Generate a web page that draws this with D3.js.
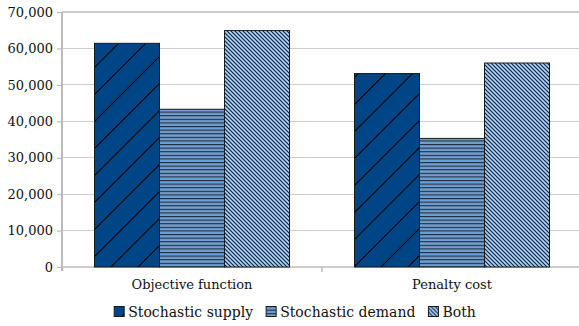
<!DOCTYPE html>
<html>
<head>
<meta charset="utf-8">
<script src="https://cdn.jsdelivr.net/npm/d3@7"></script>
<style>
  html, body { margin: 0; padding: 0; background: #fff; }
  svg { display: block; }
</style>
</head>
<body>
<svg id="chart" width="579" height="326"></svg>
<script>
// Cost components under each uncertainty setting
const categories = ["Objective function", "Penalty cost"];
const seriesNames = ["Stochastic supply", "Stochastic demand", "Both"];
const stochasticSupply = [61400, 53100];
const stochasticDemand = [43300, 35300];
const both = [64900, 56000];
const yTicks = [0, 10000, 20000, 30000, 40000, 50000, 60000, 70000];

const seriesValues = [stochasticSupply, stochasticDemand, both];
const FONT = "'DejaVu Serif', 'Liberation Serif', 'Times New Roman', serif";
const FS = "13px";
const LEGEND_FS = "14px";

const svg = d3.select("#chart");
const margin = { left: 62, right: -3, top: 12, bottom: 59 };
const W = 579, H = 326;
const x0 = margin.left, x1 = W - margin.right;
const y0 = H - margin.bottom, y1 = margin.top;

const x = d3.scaleBand().domain(categories).range([x0, x1]).paddingInner(0.25).paddingOuter(0.125);
const xs = d3.scaleBand().domain(seriesNames).range([0, x.bandwidth()]);
const y = d3.scaleLinear().domain([0, 70000]).range([y0, y1]);

// Fill patterns
const defs = svg.append("defs");
function pattern(id, w, h, bg, draw) {
  const p = defs.append("pattern").attr("id", id)
    .attr("patternUnits", "userSpaceOnUse").attr("width", w).attr("height", h);
  p.append("rect").attr("width", w).attr("height", h).attr("fill", bg);
  draw(p);
}
pattern("pSupply", 27, 27, "#004586", p => {
  p.append("path").attr("d", "M-2,29 L29,-2 M-2,2 L2,-2 M25,29 L29,25")
    .attr("stroke", "#000").attr("stroke-width", 1.1).attr("fill", "none");
});
pattern("pDemand", 10, 3.6, "#729fcf", p => {
  p.append("rect").attr("x", 0).attr("y", 0).attr("width", 10).attr("height", 1.1).attr("fill", "#1b2b40");
});
pattern("pBoth", 4, 4, "#a8d0f8", p => {
  p.append("path").attr("d", "M-1,-1 L5,5 M-1,3 L1,5 M3,-1 L5,1")
    .attr("stroke", "#14233a").attr("stroke-width", 1.1).attr("fill", "none");
});
const fills = ["url(#pSupply)", "url(#pDemand)", "url(#pBoth)"];

// Grid lines
svg.append("g").selectAll("line").data(yTicks.slice(1)).join("line")
  .attr("x1", x0).attr("x2", W).attr("y1", d => y(d)).attr("y2", d => y(d))
  .attr("stroke", "#cccccc").attr("stroke-width", 1.2).attr("shape-rendering", "crispEdges");

// Y axis
const yAxis = svg.append("g").attr("transform", `translate(${x0},0)`)
  .call(d3.axisLeft(y).tickValues(yTicks).tickSize(5).tickPadding(4).tickFormat(d3.format(",")));
yAxis.attr("font-family", null).attr("font-size", null);
yAxis.select(".domain").remove();
yAxis.selectAll(".tick line").attr("stroke", "#bbbbbb").attr("stroke-width", 1.2);
yAxis.selectAll("text").style("font-family", FONT).style("font-size", FS).attr("fill", "#111");
svg.append("line").attr("x1", x0).attr("x2", x0).attr("y1", y1).attr("y2", y0 + 4)
  .attr("stroke", "#bbbbbb").attr("stroke-width", 2);

// X axis line and separator tick
const sepX = (x(categories[0]) + x.bandwidth() + x(categories[1])) / 2;
svg.append("line").attr("x1", x0).attr("x2", W).attr("y1", y0).attr("y2", y0)
  .attr("stroke", "#bbbbbb").attr("stroke-width", 1.5);
svg.append("line").attr("x1", sepX).attr("x2", sepX)
  .attr("y1", y0).attr("y2", y0 + 5).attr("stroke", "#bbbbbb").attr("stroke-width", 1.5);

// Bars
seriesNames.forEach((s, si) => {
  svg.append("g").selectAll("rect").data(categories).join("rect")
    .attr("x", c => x(c) + xs(s))
    .attr("y", (c, i) => y(seriesValues[si][i]))
    .attr("width", xs.bandwidth())
    .attr("height", (c, i) => y0 - y(seriesValues[si][i]))
    .attr("fill", fills[si])
    .attr("stroke", "#1a1a1a").attr("stroke-width", 1);
});

// Category labels
svg.append("g").selectAll("text").data(categories).join("text")
  .attr("x", c => x(c) + x.bandwidth() / 2).attr("y", 289)
  .attr("text-anchor", "middle").style("font-family", FONT).style("font-size", FS)
  .attr("fill", "#111").text(c => c);

// Legend, laid out left to right and centred under the plot
const lg = svg.append("g");
let cx = 0;
seriesNames.forEach((s, i) => {
  const item = lg.append("g").attr("transform", `translate(${cx},0)`);
  item.append("rect").attr("x", 0).attr("y", 306.5).attr("width", 10).attr("height", 10)
    .attr("fill", fills[i]).attr("stroke", "#1a1a1a").attr("stroke-width", 1);
  const t = item.append("text").attr("x", 14).attr("y", 317)
    .style("font-family", FONT).style("font-size", LEGEND_FS).attr("fill", "#111").text(s);
  cx += 14 + t.node().getComputedTextLength() + 13;
});
const legendW = cx - 13;
lg.attr("transform", `translate(${(110 + 480) / 2 - legendW / 2},0)`);
</script>
</body>
</html>
